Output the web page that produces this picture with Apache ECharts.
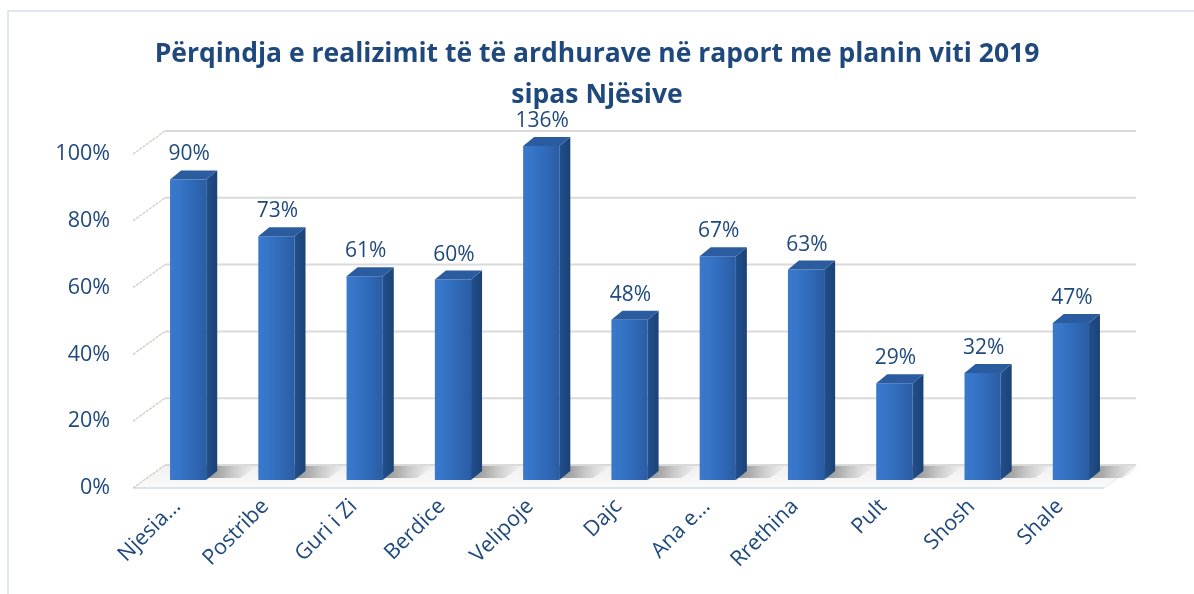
<!DOCTYPE html>
<html>
<head>
<meta charset="utf-8">
<script src="https://cdn.jsdelivr.net/npm/echarts@6/dist/echarts.min.js"></script>
<style>
html,body{margin:0;padding:0;background:#fff;}
#c{width:1194px;height:594px;}
</style>
</head>
<body>
<div id="c"></div>
<script>
// ---- data ----
const categories = ['Njesia…', 'Postribe', 'Guri i Zi', 'Berdice', 'Velipoje', 'Dajc', 'Ana e…', 'Rrethina', 'Pult', 'Shosh', 'Shale'];
const values = [0.90, 0.73, 0.61, 0.60, 1.36, 0.48, 0.67, 0.63, 0.29, 0.32, 0.47];
const yTicks = [0, 0.2, 0.4, 0.6, 0.8, 1.0];
const titleText = 'Përqindja e realizimit të të ardhurave në raport me planin viti 2019\nsipas Njësive';

// ---- styling constants ----
const TXT = '#1F497D';
const FONT = '"Open Sans", "Noto Sans", sans-serif';
const WALL_DX = 32, WALL_DY = -23;   // depth of the 3D box
const BAR_OX = 11, BAR_OY = -8;      // bar plane offset from front plane
const BAR_DX = 11, BAR_DY = -9;      // bar depth
const YMAX = 1;

const chart = echarts.init(document.getElementById('c'), null, {renderer: 'canvas'});

function wallsRender(params, api) {
  const cs = params.coordSys;
  const v = api.value(1);
  const y = api.coord([0, v])[1];
  const x0 = cs.x, x1 = cs.x + cs.width;
  const children = [];
  if (v === 0) {
    children.push({
      type: 'polygon',
      shape: {points: [[x0, y], [x1, y], [x1 + WALL_DX, y + WALL_DY], [x0 + WALL_DX, y + WALL_DY]]},
      style: {
        fill: new echarts.graphic.LinearGradient(0, 1, 0, 0, [
          {offset: 0, color: '#fafafa'},
          {offset: 1, color: '#f0f0f0'}
        ])
      }
    });
    children.push({
      type: 'line',
      shape: {x1: x0, y1: y, x2: x1, y2: y},
      style: {stroke: '#dde2e8', lineWidth: 2}
    });
    children.push({
      type: 'line',
      shape: {x1: x1, y1: y, x2: x1 + WALL_DX, y2: y + WALL_DY},
      style: {stroke: '#e8e8e8', lineWidth: 1}
    });
  }
  children.push({
    type: 'line',
    shape: {x1: x0 + WALL_DX, y1: y + WALL_DY, x2: x1 + WALL_DX, y2: y + WALL_DY},
    style: {stroke: '#dadada', lineWidth: 2}
  });
  children.push({
    type: 'line',
    shape: {x1: x0, y1: y, x2: x0 + WALL_DX, y2: y + WALL_DY},
    style: {stroke: '#cfc8bf', lineWidth: 1.2, lineDash: [3, 1]}
  });
  return {type: 'group', children: children};
}

function shadowRender(params, api) {
  const i = api.value(0);
  const base = api.coord([i, 0]);
  const bw = api.size([1, 0])[0] * 0.41;
  const cx = base[0] + BAR_OX;
  const yb = base[1] + BAR_OY;
  const xr = cx + bw / 2;
  const xl = cx - bw / 2;
  return {
    type: 'polygon',
    shape: {points: [[xl + 4, yb - 2], [xl + 14, yb - 14], [xr + BAR_DX + 40, yb - 14], [xr + 34, yb - 2]]},
    style: {
      fill: new echarts.graphic.LinearGradient(0, 0, 1, 0, [
        {offset: 0, color: 'rgba(40,40,40,0.75)'},
        {offset: 0.55, color: 'rgba(80,80,80,0.45)'},
        {offset: 1, color: 'rgba(140,140,140,0)'}
      ])
    }
  };
}

function barRender(params, api) {
  const i = api.value(0);
  const v = api.value(1);
  const vc = Math.min(v, YMAX);
  const base = api.coord([i, 0]);
  const top = api.coord([i, vc]);
  const bw = api.size([1, 0])[0] * 0.41;
  const cx = base[0] + BAR_OX;
  const yb = base[1] + BAR_OY;
  const yt = top[1] + BAR_OY;
  const xl = cx - bw / 2, xr = cx + bw / 2;
  return {
    type: 'group',
    children: [
      {
        type: 'rect',
        shape: {x: xl, y: yt, width: bw, height: yb - yt},
        style: {
          fill: new echarts.graphic.LinearGradient(0, 0, 1, 0, [
            {offset: 0, color: '#3a78cc'},
            {offset: 0.25, color: '#3675c8'},
            {offset: 0.7, color: '#2f67b4'},
            {offset: 1, color: '#2a5ca3'}
          ])
        }
      },
      {
        type: 'polygon',
        shape: {points: [[xr, yt], [xr + BAR_DX, yt + BAR_DY], [xr + BAR_DX, yb + BAR_DY], [xr, yb]]},
        style: {
          fill: new echarts.graphic.LinearGradient(0, 0, 1, 0, [
            {offset: 0, color: '#21508e'},
            {offset: 1, color: '#1b4275'}
          ])
        }
      },
      {
        type: 'polygon',
        shape: {points: [[xl, yt], [xr, yt], [xr + BAR_DX, yt + BAR_DY], [xl + BAR_DX, yt + BAR_DY]]},
        style: {fill: '#2b5ca0'}
      },
      {
        type: 'text',
        style: {
          text: Math.round(v * 100) + '%',
          x: cx + 1,
          y: yt - 25,
          align: 'center',
          verticalAlign: 'middle',
          fill: TXT,
          font: '21px ' + FONT
        }
      }
    ]
  };
}

const option = {
  backgroundColor: '#ffffff',
  animation: false,
  title: {
    text: titleText,
    left: 'center',
    top: 34,
    padding: [0, 0, 0, 32],
    textStyle: {
      color: TXT,
      fontSize: 26.5,
      fontWeight: 'bold',
      fontFamily: FONT,
      lineHeight: 41
    }
  },
  graphic: [{
    type: 'rect',
    shape: {x: 8, y: 11, width: 1220, height: 620},
    style: {fill: 'none', stroke: '#d5e0ee', lineWidth: 1.5},
    z: -10
  }],
  grid: {left: 133, right: 90, top: 154, bottom: 106},
  xAxis: {
    type: 'category',
    data: categories,
    axisLine: {show: false},
    axisTick: {show: false},
    axisLabel: {
      rotate: 45,
      margin: 15,
      interval: 0,
      padding: [10, 0, 0, 0],
      color: TXT,
      fontSize: 21.5,
      fontFamily: FONT
    }
  },
  yAxis: {
    type: 'value',
    min: 0,
    max: YMAX,
    interval: 0.2,
    axisLine: {show: false},
    axisTick: {show: false},
    splitLine: {show: false},
    axisLabel: {
      margin: 23,
      color: TXT,
      fontSize: 21.5,
      fontFamily: FONT,
      formatter: v => Math.round(v * 100) + '%'
    }
  },
  series: [
    {
      type: 'custom',
      name: 'walls',
      renderItem: wallsRender,
      data: yTicks.map(v => [0, v]),
      encode: {x: 0, y: 1},
      silent: true,
      z: 1
    },
    {
      type: 'custom',
      name: 'shadows',
      renderItem: shadowRender,
      data: values.map((v, i) => [i, v]),
      encode: {x: 0, y: 1},
      silent: true,
      z: 2
    },
    {
      type: 'custom',
      name: 'bars',
      renderItem: barRender,
      data: values.map((v, i) => [i, v]),
      encode: {x: 0, y: 1},
      clip: false,
      z: 3
    }
  ]
};
chart.setOption(option);
</script>
</body>
</html>
